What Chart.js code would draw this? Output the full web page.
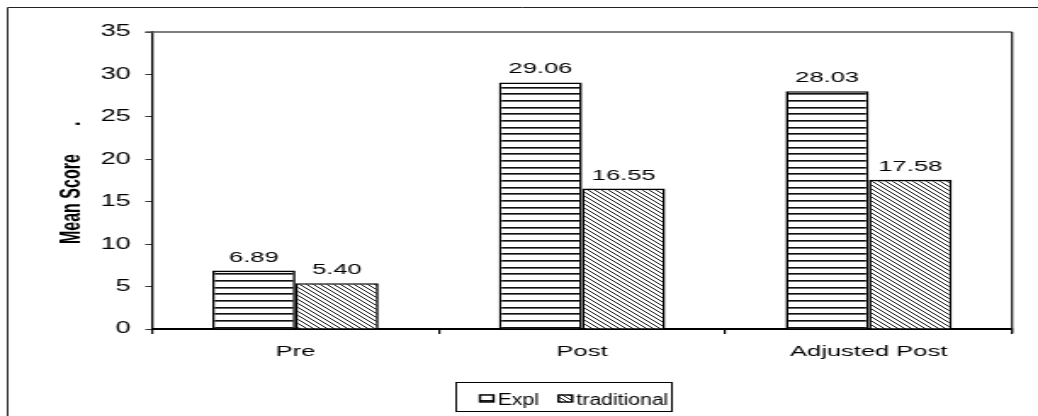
<!DOCTYPE html>
<html>
<head>
<meta charset="utf-8">
<script src="https://cdn.jsdelivr.net/npm/chart.js@4/dist/chart.umd.min.js"></script>
<style>
  html, body { margin: 0; padding: 0; background: #fff; overflow: hidden; }
  /* the figure is laid out on a narrower canvas and widened as a whole */
  #wrap { position: absolute; left: 0; top: 0; width: 611px; height: 416px;
          transform: scaleX(1.6989); transform-origin: 0 0; }
  canvas { display: block; }
</style>
</head>
<body>
<div id="wrap"><canvas id="c" width="611" height="416"></canvas></div>
<script>
const categories = ['Pre', 'Post', 'Adjusted Post'];
const seriesNames = ['Expl', 'traditional'];
const explScores = [6.89, 29.06, 28.03];
const traditionalScores = [5.40, 16.55, 17.58];
const yTicks = [0, 5, 10, 15, 20, 25, 30, 35];
const axisTitle = 'Mean Score';

const FONT = '"Liberation Sans", Arial, sans-serif';
Chart.defaults.font.family = FONT;
Chart.defaults.color = '#000';

// horizontal stripe fill
function stripePattern() {
  const t = document.createElement('canvas');
  t.width = 8; t.height = 20;
  const g = t.getContext('2d');
  g.fillStyle = '#fff'; g.fillRect(0, 0, 8, 20);
  for (const y of [0, 7, 13]) {
    g.fillStyle = '#111'; g.fillRect(0, y, 8, 1);
    g.fillStyle = '#666'; g.fillRect(0, y + 1, 8, 1);
  }
  return g.createPattern(t, 'repeat');
}

// diagonal hatch fill, lines running down to the right
function hatchPattern() {
  const n = 4;
  const t = document.createElement('canvas');
  t.width = n; t.height = n;
  const g = t.getContext('2d');
  g.fillStyle = '#fff'; g.fillRect(0, 0, n, n);
  for (let i = 0; i < n; i++) {
    g.fillStyle = '#1a1a1a'; g.fillRect(i, i, 1, 1);
  }
  return g.createPattern(t, 'repeat');
}

const fills = [stripePattern(), hatchPattern()];

const decorations = {
  id: 'decorations',
  afterDraw(chart) {
    const ctx = chart.ctx;
    const a = chart.chartArea;
    ctx.save();

    // outer frame (left and top edges)
    ctx.strokeStyle = '#222';
    ctx.lineWidth = 1;
    ctx.beginPath();
    ctx.moveTo(4.5, 416); ctx.lineTo(4.5, 7.5); ctx.lineTo(611, 7.5);
    ctx.stroke();

    // plot box top and right
    ctx.strokeStyle = '#555';
    ctx.lineWidth = 1.5;
    ctx.beginPath();
    ctx.moveTo(a.left - 4, a.top); ctx.lineTo(a.right, a.top);
    ctx.stroke();
    ctx.strokeStyle = '#111';
    ctx.lineWidth = 1.2;
    ctx.beginPath();
    ctx.moveTo(a.right, a.top); ctx.lineTo(a.right, a.bottom + 4);
    ctx.stroke();

    // value labels above bars
    ctx.fillStyle = '#000';
    ctx.font = '15px ' + FONT;
    ctx.textAlign = 'center';
    ctx.textBaseline = 'alphabetic';
    chart.data.datasets.forEach((ds, di) => {
      chart.getDatasetMeta(di).data.forEach((bar, i) => {
        ctx.fillText(ds.data[i].toFixed(2), bar.x, bar.y - 9);
      });
    });

    // y axis title
    ctx.save();
    ctx.font = 'bold 16px ' + FONT;
    ctx.textAlign = 'left';
    ctx.textBaseline = 'alphabetic';
    ctx.translate(47, 244);
    ctx.rotate(-Math.PI / 2);
    ctx.fillText(axisTitle, 0, 0);
    ctx.fillText('.', 118, 0);
    ctx.restore();

    // legend
    const bx = 268.5, by = 382.5, bw = 127, bh = 29;
    ctx.strokeStyle = '#000';
    ctx.lineWidth = 1;
    ctx.strokeRect(bx, by, bw, bh);
    ctx.font = '16px ' + FONT;
    ctx.textAlign = 'left';
    const squeeze = 0.78;
    let x = bx + 13.5;
    chart.data.datasets.forEach((ds) => {
      ctx.fillStyle = ds.backgroundColor;
      ctx.fillRect(x, by + 12, 9, 8);
      ctx.strokeStyle = '#000';
      ctx.lineWidth = 1.4;
      ctx.strokeRect(x + 0.5, by + 12.5, 8, 7);
      ctx.fillStyle = '#000';
      ctx.save();
      ctx.translate(x + 11, by + 22);
      ctx.scale(squeeze, 1);
      ctx.fillText(ds.label, 0, 0);
      const w = ctx.measureText(ds.label).width * squeeze;
      ctx.restore();
      x += 11 + w + 11;
    });

    ctx.restore();
  }
};

new Chart(document.getElementById('c'), {
  type: 'bar',
  data: {
    labels: categories,
    datasets: [
      { label: seriesNames[0], data: explScores, backgroundColor: fills[0],
        borderColor: '#000', borderWidth: 1.6, borderSkipped: 'bottom' },
      { label: seriesNames[1], data: traditionalScores, backgroundColor: fills[1],
        borderColor: '#000', borderWidth: 1.6, borderSkipped: 'bottom' }
    ]
  },
  options: {
    responsive: false,
    animation: false,
    devicePixelRatio: 1,
    layout: { padding: { left: 0, top: 32, right: 15.3, bottom: 47 } },
    datasets: { bar: { categoryPercentage: 0.58, barPercentage: 1 } },
    plugins: { legend: { display: false }, tooltip: { enabled: false } },
    scales: {
      x: {
        offset: true,
        grid: { display: true, drawOnChartArea: false, offset: true,
                tickLength: 5, color: '#000', lineWidth: 1.2 },
        border: { display: true, color: '#000', width: 2 },
        ticks: { color: '#000', font: { family: FONT, size: 15 }, padding: 9 },
        afterFit(s) { s.height = 40; }
      },
      y: {
        min: 0, max: 35,
        afterBuildTicks(s) { s.ticks = yTicks.map(v => ({ value: v })); },
        grid: { display: true, drawOnChartArea: false, tickLength: 4,
                color: '#333', lineWidth: 1 },
        border: { display: true, color: '#000', width: 1.3 },
        ticks: { color: '#000', font: { family: FONT, size: 16 }, padding: 8.5 },
        afterFit(s) { s.width = 89.5; }
      }
    }
  },
  plugins: [decorations]
});
</script>
</body>
</html>
